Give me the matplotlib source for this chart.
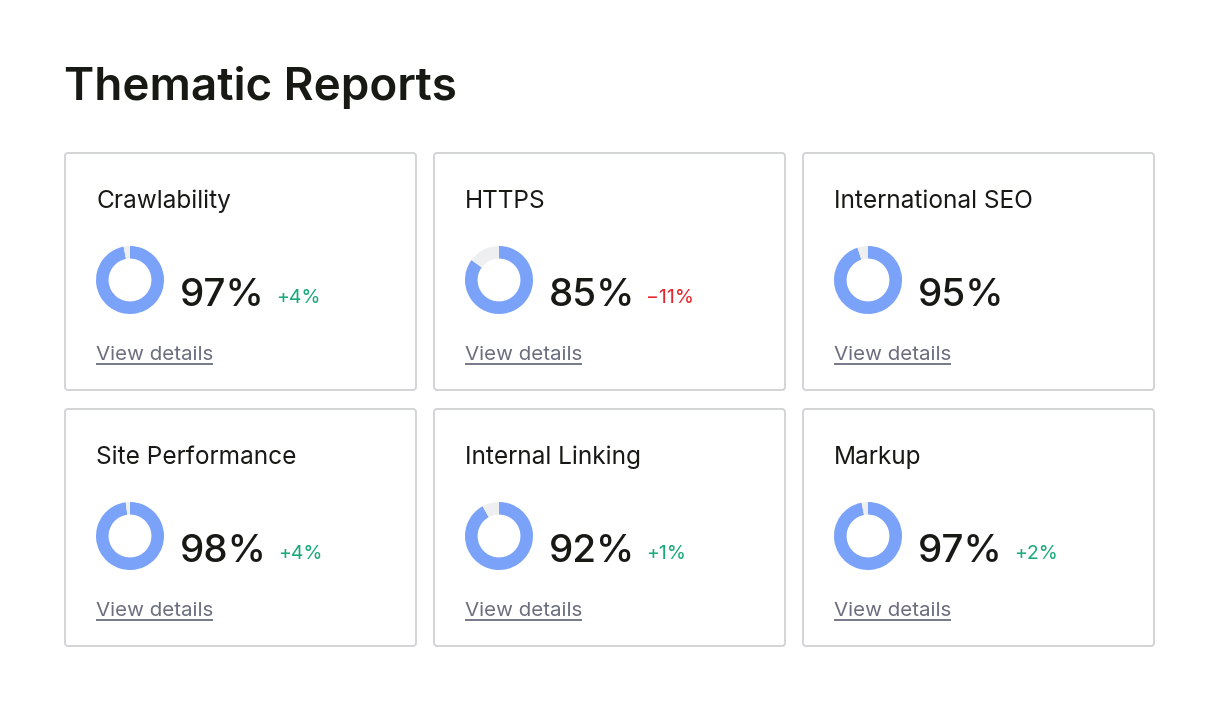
import matplotlib.pyplot as plt
from matplotlib.patches import FancyBboxPatch

# ---------------- data ----------------
titles = ["Crawlability", "HTTPS", "International SEO",
          "Site Performance", "Internal Linking", "Markup"]
scores = [97, 85, 95, 98, 92, 97]
deltas = ["+4%", "\u221211%", "", "+4%", "+1%", "+2%"]
delta_up = [True, False, True, True, True, True]

W, H = 1220, 712
plt.rcParams['font.family'] = ['Inter', 'DejaVu Sans']

fig = plt.figure(figsize=(W / 100, H / 100), dpi=100)
fig.patch.set_facecolor("white")
ax = fig.add_axes([0, 0, 1, 1])
ax.set_xlim(0, W)
ax.set_ylim(H, 0)
ax.axis("off")

ax.text(64, 100, "Thematic Reports", fontsize=33, fontweight="semibold",
        color="#171a14", va="baseline", ha="left")

card_x = [65, 434, 803]
card_y = [153, 409]
card_w, card_h = 351, 237

blue = "#7aa2f8"
grey = "#eeeff1"
green = "#1aa979"
red = "#e5262d"

big_texts = []
links = []
for i, t in enumerate(titles):
    x0 = card_x[i % 3]
    y0 = card_y[i // 3]
    box = FancyBboxPatch((x0, y0), card_w, card_h,
                         boxstyle="round,pad=0,rounding_size=3",
                         facecolor="white", edgecolor="#d3d4d6", linewidth=1.4)
    ax.add_patch(box)
    ax.text(x0 + 31, y0 + 55, t, fontsize=17.6, color="#171a14",
            va="baseline", ha="left")

    # donut
    cx, cy, r = x0 + 65, y0 + 127, 34
    pax = fig.add_axes([(cx - r) / W, 1 - (cy + r) / H, 2 * r / W, 2 * r / H])
    pax.pie([scores[i], 100 - scores[i]], colors=[blue, grey], startangle=90,
            counterclock=False, radius=1.0,
            wedgeprops=dict(width=0.37, edgecolor="none"))
    pax.set_aspect("equal")
    pax.set_xlim(-1, 1)
    pax.set_ylim(-1, 1)

    bt = ax.text(x0 + 115, y0 + 153, f"{scores[i]}%", fontsize=27.8,
                 fontweight="medium", color="#171a14",
                 va="baseline", ha="left")
    big_texts.append((bt, i, y0))

    lk = ax.text(x0 + 31, y0 + 207, "View details", fontsize=14.8,
                 color="#6b6e7e", va="baseline", ha="left")
    links.append((lk, y0))

fig.canvas.draw()
renderer = fig.canvas.get_renderer()
inv = ax.transData.inverted()

for bt, i, y0 in big_texts:
    if deltas[i]:
        bb = bt.get_window_extent(renderer)
        xr = inv.transform((bb.x1, bb.y0))[0]
        ax.text(xr + 11, y0 + 150, deltas[i], fontsize=14,
                color=green if delta_up[i] else red,
                va="baseline", ha="left")

for lk, y0 in links:
    bb = lk.get_window_extent(renderer)
    xl = inv.transform((bb.x0, bb.y0))[0]
    xr = inv.transform((bb.x1, bb.y0))[0]
    ax.plot([xl, xr], [y0 + 211, y0 + 211], color="#6b6e7e", lw=1.3,
            solid_capstyle="butt")

fig.savefig("out.png", dpi=100, facecolor="white")
